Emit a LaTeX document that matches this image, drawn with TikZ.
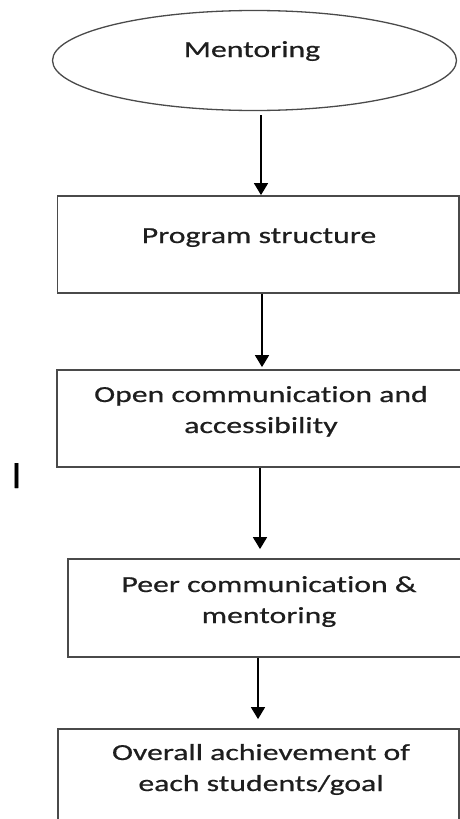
\documentclass[tikz,border=0pt]{standalone}
\usepackage{fontspec}
\setmainfont{Carlito}
\newfontfamily\bodyfont[FakeStretch=1.38,FakeBold=0.6,Ligatures={NoCommon}]{Carlito}
\newfontfamily\markfont[FakeBold=1.2]{Liberation Sans}
\usetikzlibrary{arrows.meta,shapes.geometric}
\definecolor{boxline}{HTML}{4A4A4A}
\definecolor{txt}{HTML}{1E1E1E}
\tikzset{
  flowbox/.style={draw=boxline, line width=1.8pt, rectangle, inner sep=0pt},
  flowell/.style={draw=boxline, line width=1.3pt, ellipse, inner sep=0pt},
  flowtext/.style={anchor=base, inner sep=0pt, text=txt, font=\bodyfont\fontsize{23}{31}\selectfont},
  flowarrow/.style={draw=black, line width=1.5pt, -{Triangle[width=14pt,length=12pt]}}
}
\begin{document}
\begin{tikzpicture}[x=1pt,y=-1pt]
\useasboundingbox (0,0) rectangle (460,819);
\clip (0,0) rectangle (460,819);
\fill[white] (0,0) rectangle (460,819);
% shapes
\node[flowell, minimum width=404pt, minimum height=100pt] (ell) at (254.5,60.5) {};
\node[flowbox, minimum width=401.5pt, minimum height=97pt] (b1) at (258.25,244.5) {};
\node[flowbox, minimum width=405pt, minimum height=97pt] (b2) at (259.5,418.5) {};
\node[flowbox, minimum width=402pt, minimum height=98pt] (b3) at (269,608) {};
\node[flowbox, minimum width=401pt, minimum height=101pt] (b4) at (258.5,779.5) {};
% texts
\node[flowtext] (t0) at (252,57) {Mentoring};
\node[flowtext] (t1) at (259,243) {Program structure};
\node[flowtext] (t2) at (261,402) {\begin{tabular}[t]{@{}c@{}}Open communication and\\ accessibility\end{tabular}};
\node[flowtext] (t3) at (269,592) {\begin{tabular}[t]{@{}c@{}}Peer communication \&\\ mentoring\end{tabular}};
\node[flowtext] (t4) at (261,760) {\begin{tabular}[t]{@{}c@{}}Overall achievement of\\ each students/goal\end{tabular}};
\node[anchor=base, inner sep=0pt, font=\markfont\fontsize{36}{40}\selectfont] (mk) at (16.5,488) {I};
% connectors
\coordinate (a1s) at ([yshift=-4pt]ell.south -| 261,0);
\draw[flowarrow] (a1s) -- (b1.north -| a1s);
\coordinate (a2s) at (b1.south -| 262,0);
\draw[flowarrow] (a2s) -- ([yshift=2pt]b2.north -| a2s);
\coordinate (a3s) at (b2.south -| 260,0);
\draw[flowarrow] (a3s) -- ([yshift=9pt]b3.north -| a3s);
\coordinate (a4s) at (b3.south -| 258,0);
\draw[flowarrow] (a4s) -- ([yshift=9pt]b4.north -| a4s);
\end{tikzpicture}
\end{document}
